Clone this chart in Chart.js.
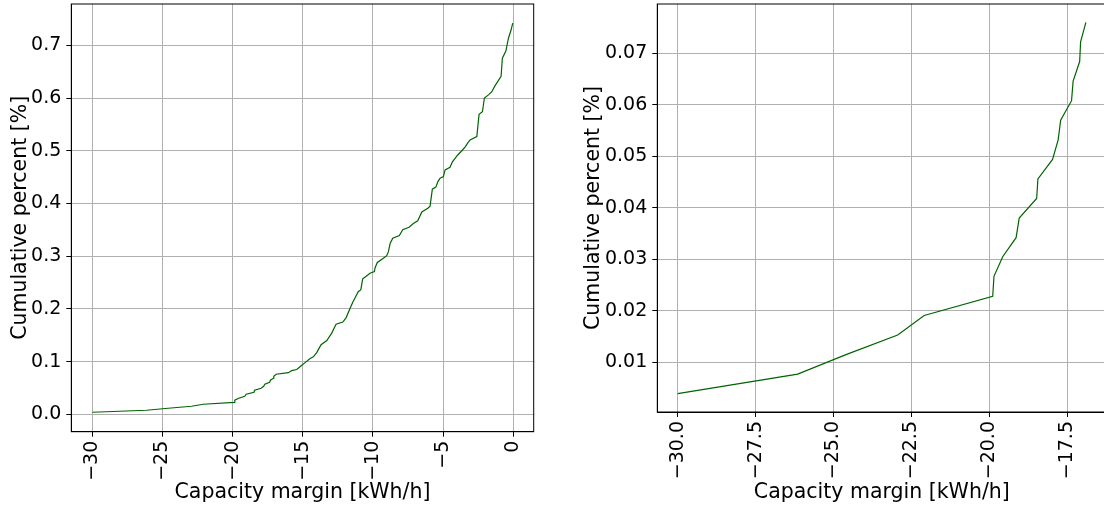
<!DOCTYPE html>
<html>
<head>
<meta charset="utf-8">
<script src="https://cdn.jsdelivr.net/npm/chart.js@4.4.1/dist/chart.umd.min.js"></script>
<style>
  html, body { margin: 0; padding: 0; background: #fff; overflow: hidden; width: 1104px; height: 506px; }
  canvas { position: absolute; top: 0; }
</style>
</head>
<body>
<canvas id="left" width="560" height="506" style="left:0px"></canvas>
<canvas id="right" width="560" height="506" style="left:560px"></canvas>
<script>
// Capacity margin [kWh/h] (sorted) and cumulative percent
const margin = [
  -30.00, -26.15, -24.60, -22.94, -22.09, -19.89, -19.85, -19.57, -19.14, -19.04,
  -18.48, -18.44, -17.97, -17.79, -17.71, -17.36, -17.31, -17.10, -17.07, -16.90,
  -16.03, -15.79, -15.43, -15.12, -14.84, -14.48, -14.25, -14.01, -13.70, -13.29,
  -12.94, -12.63, -12.15, -11.92, -11.63, -11.44, -11.20, -11.04, -10.87, -10.73,
  -10.44, -10.21, -9.90, -9.85, -9.69, -9.26, -9.02, -8.90, -8.78, -8.59,
  -8.12, -7.88, -7.43, -7.12, -6.81, -6.52, -6.09, -5.93, -5.77, -5.52,
  -5.38, -5.22, -4.98, -4.86, -4.51, -4.34, -3.96, -3.67, -3.44, -3.24,
  -3.08, -2.60, -2.44, -2.20, -2.06, -1.77, -1.53, -1.30, -0.87, -0.78,
  -0.53, -0.35, -0.16, -0.04
];
const cumulative = [
  0.0039, 0.0077, 0.0115, 0.0153, 0.0191, 0.0228, 0.0267, 0.0305, 0.0342, 0.0380,
  0.0418, 0.0456, 0.0494, 0.0532, 0.0570, 0.0608, 0.0646, 0.0684, 0.0722, 0.0760,
  0.079, 0.083, 0.085, 0.092, 0.098, 0.106, 0.109, 0.117, 0.132, 0.140,
  0.154, 0.171, 0.175, 0.183, 0.201, 0.2125, 0.225, 0.233, 0.236, 0.257,
  0.263, 0.2675, 0.2706, 0.278, 0.288, 0.296, 0.301, 0.3085, 0.324, 0.334,
  0.339, 0.350, 0.355, 0.362, 0.367, 0.384, 0.391, 0.395, 0.427, 0.431,
  0.441, 0.448, 0.451, 0.4636, 0.4687, 0.479, 0.492, 0.500, 0.507, 0.515,
  0.5205, 0.527, 0.569, 0.574, 0.600, 0.606, 0.612, 0.6235, 0.641, 0.6755,
  0.689, 0.713, 0.729, 0.742
];
// Right panel shows the lowest part of the distribution
const zoomCount = 20;

const leftXTicks = [-30, -25, -20, -15, -10, -5, 0];
const leftYTicks = [0.0, 0.1, 0.2, 0.3, 0.4, 0.5, 0.6, 0.7];
const rightXTicks = [-30.0, -27.5, -25.0, -22.5, -20.0, -17.5];
const rightYTicks = [0.01, 0.02, 0.03, 0.04, 0.05, 0.06, 0.07];

const xTitle = 'Capacity margin [kWh/h]';
const yTitle = 'Cumulative percent [%]';

Chart.defaults.font.family = "'DejaVu Sans', sans-serif";
Chart.defaults.font.size = 19;
Chart.defaults.color = '#000';

const minus = s => s.replace('-', '\u2212');

const framePlugin = {
  id: 'frame',
  afterDraw(chart) {
    const {ctx, chartArea: a} = chart;
    ctx.save();
    ctx.strokeStyle = '#000';
    ctx.lineWidth = 1;
    ctx.strokeRect(a.left, a.top, a.right - a.left, a.bottom - a.top);
    ctx.restore();
  }
};

function makeChart(id, xs, ys, cfg) {
  const pts = xs.map((x, i) => ({x, y: ys[i]}));
  return new Chart(document.getElementById(id), {
    type: 'scatter',
    data: { datasets: [{
      data: pts, showLine: true, borderColor: '#006400', borderWidth: 1.2,
      pointRadius: 0, tension: 0, fill: false
    }]},
    plugins: [framePlugin],
    options: {
      responsive: false, animation: false, devicePixelRatio: 1,
      layout: { padding: cfg.padding },
      plugins: { legend: { display: false }, tooltip: { enabled: false } },
      scales: {
        x: {
          type: 'linear', min: cfg.xmin, max: cfg.xmax,
          afterBuildTicks: s => { s.ticks = cfg.xticks.map(v => ({value: v})); },
          afterFit: s => { s.height = cfg.xh; s.paddingLeft = 0; s.paddingRight = 0; s.paddingTop = 0; s.paddingBottom = 0; },
          ticks: { minRotation: 90, maxRotation: 90, padding: 4, color: '#000',
                   callback: v => minus(cfg.xfmt(v)) },
          grid: { color: '#b0b0b0', lineWidth: 1, tickLength: 5, tickColor: '#000', tickWidth: 1 },
          border: { display: true, color: '#000', width: 1 },
          title: { display: true, text: xTitle, color: '#000', font: { size: 20.5 }, padding: { top: 0, bottom: 1 } }
        },
        y: {
          type: 'linear', min: cfg.ymin, max: cfg.ymax,
          afterBuildTicks: s => { s.ticks = cfg.yticks.map(v => ({value: v})); },
          afterFit: s => { s.width = cfg.yw; s.paddingLeft = 0; s.paddingRight = 0; s.paddingTop = 0; s.paddingBottom = 0; },
          ticks: { padding: 5, color: '#000', callback: v => cfg.yfmt(v) },
          grid: { color: '#b0b0b0', lineWidth: 1, tickLength: 5, tickColor: '#000', tickWidth: 1 },
          border: { display: true, color: '#000', width: 1 },
          title: { display: true, text: yTitle, color: '#000', font: { size: 20.5 }, padding: { top: cfg.ytpad, bottom: 0 } }
        }
      }
    }
  });
}

makeChart('left', margin, cumulative, {
  padding: { top: 4, right: 26.3, left: 0, bottom: 0 },
  xmin: -31.5, xmax: 1.454, ymin: -0.033, ymax: 0.7784,
  xticks: leftXTicks, yticks: leftYTicks,
  xfmt: v => String(v), yfmt: v => v.toFixed(1),
  xh: 74.3, yw: 71.3, ytpad: 8
});

makeChart('right', margin.slice(0, zoomCount), cumulative.slice(0, zoomCount), {
  padding: { top: 4, right: 13.7, left: 0, bottom: 0 },
  xmin: -30.655, xmax: -16.245, ymin: 0.00035, ymax: 0.07957,
  xticks: rightXTicks, yticks: rightYTicks,
  xfmt: v => v.toFixed(1), yfmt: v => v.toFixed(2),
  xh: 94, yw: 97.3, ytpad: 21
});
</script>
</body>
</html>
